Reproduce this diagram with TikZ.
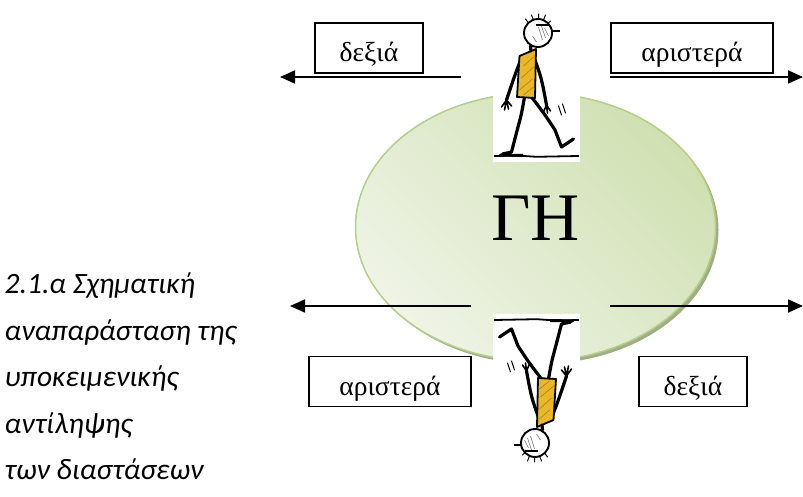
\documentclass[tikz,border=0pt]{standalone}
\usepackage{fontspec}
\newfontfamily\serifgr{Liberation Serif}
\newfontfamily\capgr{Carlito}
\usetikzlibrary{arrows.meta}
\definecolor{earthlight}{HTML}{EFF4E6}
\definecolor{earthdark}{HTML}{D0E0B2}
\definecolor{earthrim}{HTML}{B5CE8A}
\definecolor{earthshadow}{HTML}{A0AE88}
\definecolor{shirt}{HTML}{E8B82A}
\definecolor{shirtdark}{HTML}{B98A12}
\begin{document}
\begin{tikzpicture}[x=1pt,y=-1pt,
  lbl/.style={draw=black, line width=1.7pt, fill=white, minimum height=50pt,
    inner sep=0pt, text height=28pt, text depth=0pt,
    font=\serifgr\fontsize{27.5}{30}\selectfont},
  dir/.style={line width=1.8pt, -{Triangle[length=15pt,width=13pt]}},
  captxt/.style={anchor=base west, inner sep=0pt,
    font=\capgr\itshape\fontsize{29.5}{34}\selectfont},
  ink/.style={line width=3.2pt, line cap=round, line join=round},
  thin/.style={line width=1pt, line cap=round},
  walker/.pic={
    % white card behind the figure
    \fill[white] (-43.5,-76) rectangle (43.5,76);
    % ground
    \draw[ink, line width=1.8pt] (-42,70) -- (-20,69.5) -- (0,70.8) -- (42,70);
    \draw[ink, line width=3pt] (-36,69) -- (-14,69.5);
    % legs
    \draw[ink] (-12,11) .. controls (-15,28) .. (-18.5,41) -- (-25,66) -- (-34,68);
    \draw[ink] (-5,11) .. controls (8,28) .. (18.5,44) -- (25,61) -- (37,53);
    % motion strokes
    \draw[thin] (22,20) -- (25,29) (26,18) -- (29,27);
    % arms
    \draw[ink] (-15,-28) .. controls (-22,-10) .. (-30,14);
    \draw[thin, line width=1.6pt] (-30,14) -- (-35,21) (-30,14) -- (-32,24)
      (-30,14) -- (-28,23) (-30,14) -- (-25,20);
    \draw[ink] (-3,-30) .. controls (5,-8) .. (10,19);
    \draw[thin, line width=1.6pt] (10,19) -- (7,26) (10,19) -- (11,27)
      (10,19) -- (14,25);
    % shirt
    \filldraw[fill=shirt, draw=black, line width=1.8pt, line join=round]
      (-17,-30) -- (-0.5,-37) -- (-1.5,12) -- (-19.5,11) -- cycle;
    \draw[shirtdark, line width=0.8pt] (-13,-20) -- (-3,-29) (-15,-8) -- (-3,-19)
      (-17,4) -- (-4,-7) (-13,9) -- (-3,1);
    % neck
    \draw[ink] (-6,-40) -- (-5.5,-35);
    % head
    \draw[line width=1.9pt, fill=white] (1.5,-53) circle (14pt);
    \draw[black!55, line width=0.6pt] (8,-58) -- (12,-50) (5,-60) -- (9,-48)
      (2,-59) -- (6,-46) (-4,-50) -- (0,-44);
    \draw[thin] (-3,-66) -- (-5,-71) (2,-67) -- (2,-72) (7,-66) -- (9,-71)
      (-8,-63) -- (-11,-67) (11,-62) -- (14,-65);
    \draw[line width=1.2pt] (-1,-61) -- (12,-61);
    \draw[line width=1.6pt] (14.5,-55) -- (23,-55);
  },
]
\useasboundingbox (0,0) rectangle (803,497);

% the earth
\fill[earthshadow] (538.5,230) ellipse [x radius=180pt, y radius=134pt];
\shade[left color=earthlight, right color=earthdark, shading angle=135]
  (535.5,227) ellipse [x radius=180pt, y radius=134pt];
\draw[earthrim, line width=1.5pt] (535.5,227) ellipse [x radius=180pt, y radius=134pt];
\node[font=\serifgr\fontsize{68}{70}\selectfont, inner sep=0pt] (earth) at (535.5,218.5) {ΓΗ};

% the two walkers
\pic at (536.5,86) {walker};
\pic[rotate=180] at (536.5,390) {walker};

% direction labels
\node[lbl, minimum width=108pt] (tl) at (369,48) {δεξιά};
\node[lbl, minimum width=162pt] (tr) at (692,48) {αριστερά};
\node[lbl, minimum width=162pt] (bl) at (390,381.5) {αριστερά};
\node[lbl, minimum width=108pt] (br) at (693,381.5) {δεξιά};

% arrows
\coordinate (tls) at (461,77);  \coordinate (tle) at (280,77);
\coordinate (trs) at (610,77);  \coordinate (tre) at (803,77);
\coordinate (bls) at (471,306); \coordinate (ble) at (290,306);
\coordinate (brs) at (610,306); \coordinate (bre) at (803,306);
\draw[dir] (tls) -- (tle);
\draw[dir] (trs) -- (tre);
\draw[dir] (bls) -- (ble);
\draw[dir] (brs) -- (bre);

% caption
\node[captxt] (c1) at (4.5,293.5) {2.1.α Σχηματική};
\node[captxt] (c2) at (4.5,340) {αναπαράσταση της};
\node[captxt] (c3) at (4.5,386.5) {υποκειμενικής};
\node[captxt] (c4) at (4.5,433) {αντίληψης};
\node[captxt] (c5) at (4.5,479.5) {των διαστάσεων};
\end{tikzpicture}
\end{document}
